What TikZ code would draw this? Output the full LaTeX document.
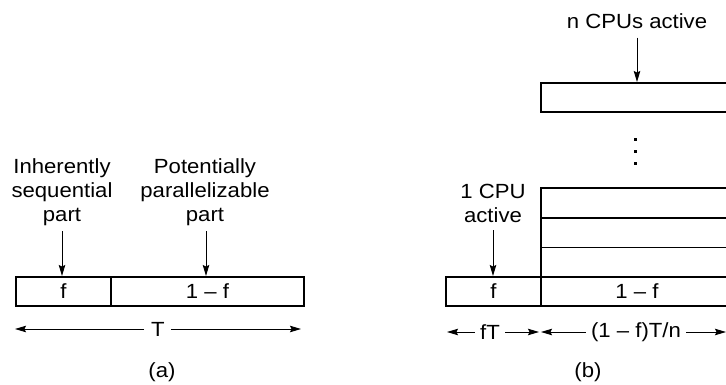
\documentclass[tikz,border=0pt]{standalone}
\usepackage{fontspec}
\setmainfont{Liberation Sans}[FakeStretch=1.08]
\usetikzlibrary{arrows.meta}
\begin{document}
\begin{tikzpicture}[x=1pt,y=-1pt,
  every node/.style={font=\fontsize{20.5}{24}\selectfont, inner sep=0pt},
  cell/.style={draw, line width=1.8pt, minimum height=29pt, inner sep=0pt, anchor=north west},
  lab/.style={align=center, anchor=south},
  arr/.style={line width=0.9pt, -{Stealth[length=11pt,width=6.5pt,inset=1.5pt]}}]
\useasboundingbox (0,0) rectangle (726,385);
% ---------- (a)
\node[cell, minimum width=95pt] (af) at (15,276) {f};
\node[cell, minimum width=193pt] (ap) at (110,276) {1 \textendash{} f};
\node[lab] (seq) at (62,226) {Inherently\\sequential\\part};
\node[lab] (par) at (205,226) {Potentially\\parallelizable\\part};
\draw[arr] ([yshift=-5pt]seq.south) -- (seq.south |- af.north);
\draw[arr] ([yshift=-5pt,xshift=1pt]par.south) -- ([xshift=1pt]par.south |- ap.north);
\node (T) at (158,329) {T};
\coordinate (Tl) at (15,329);
\coordinate (Tr) at (301,329);
\draw[arr] ([xshift=-7pt]T.west) -- (Tl);
\draw[arr] ([xshift=6pt]T.east) -- (Tr);
\node (capa) at (162,372) {(a)};
% ---------- (b)
\node[cell, minimum width=95pt] (bf) at (445,276) {f};
\node[cell, minimum width=192pt] (r1) at (540,276) {1 \textendash{} f};
\node[cell, minimum width=192pt, minimum height=29.5pt] (r2) at (540,246.5) {};
\node[cell, minimum width=192pt, minimum height=29.5pt] (r3) at (540,217) {};
\node[cell, minimum width=192pt, minimum height=29.5pt] (r4) at (540,187.5) {};
\node[cell, minimum width=192pt] (top) at (540,82) {};
\fill (633.5,138.5) rectangle ++(3,3);
\fill (633.5,150.5) rectangle ++(3,3);
\fill (633.5,162.5) rectangle ++(3,3);
\node (ncpu) at (637,21) {n CPUs active};
\draw[arr] ([yshift=-9pt]ncpu.south) -- (ncpu.south |- top.north);
\node[lab] (one) at (493,223) {1 CPU\\active};
\draw[arr] ([yshift=-7pt]one.south) -- (one.south |- bf.north);
\node (fT) at (490,332) {fT};
\coordinate (fTl) at (447,332);
\coordinate (fTr) at (539,332);
\draw[arr] ([xshift=-5pt]fT.west) -- (fTl);
\draw[arr] ([xshift=5pt]fT.east) -- (fTr);
\node (ftn) at (636,332) {(1 \textendash{} f)T/n};
\coordinate (ftnl) at (541,332);
\coordinate (ftnr) at (726,332);
\draw[arr] ([xshift=-5pt]ftn.west) -- (ftnl);
\draw[arr] ([xshift=5pt]ftn.east) -- (ftnr);
\node (capb) at (588,372) {(b)};
\end{tikzpicture}
\end{document}
